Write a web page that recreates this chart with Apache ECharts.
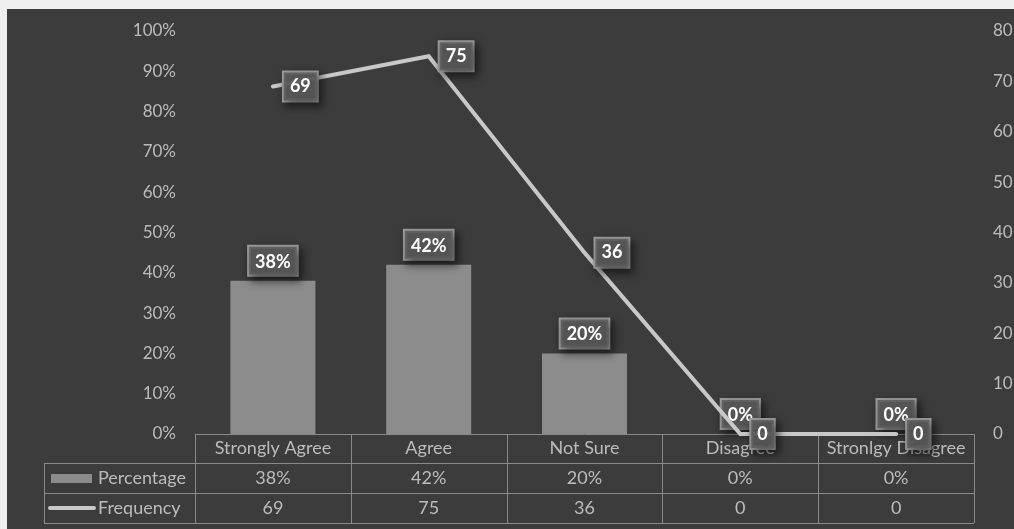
<!DOCTYPE html>
<html>
<head>
<meta charset="utf-8">
<title>Survey responses</title>
<script src="https://cdn.jsdelivr.net/npm/echarts@6/dist/echarts.min.js"></script>
<style>
  html, body { margin: 0; padding: 0; background: #efefef; }
  #chart { width: 1014px; height: 529px; }
</style>
</head>
<body>
<div id="chart"></div>
<script>
// Survey answers per category
const categories = ['Strongly Agree', 'Agree', 'Not Sure', 'Disagree', 'Stronlgy Disagree'];
const percentage = [38, 42, 20, 0, 0];
const frequency = [69, 75, 36, 0, 0];
const seriesNames = ['Percentage', 'Frequency'];

const FONT = 'Lato, "Open Sans", sans-serif';
const BG = '#3c3c3c';
const BAR = '#8c8c8c';
const LINE = '#c8c8c8';
const TEXT = '#bcbcbc';
const RULE = '#8a8a8a';
const TABLE_FONT = '18px ' + FONT;

const chart = echarts.init(document.getElementById('chart'));

const boxLabel = {
  show: true,
  color: '#ffffff',
  fontWeight: 'bold',
  fontSize: 18,
  fontFamily: FONT,
  lineHeight: 22,
  backgroundColor: 'rgba(92,92,92,0.88)',
  borderColor: '#9c9c9c',
  borderWidth: 2,
  padding: [4, 6, 2, 6],
  shadowColor: 'rgba(0,0,0,0.55)',
  shadowBlur: 8,
  shadowOffsetX: 3,
  shadowOffsetY: 4
};

chart.setOption({
  backgroundColor: BG,
  animation: false,
  grid: { left: 195, right: 40, top: 31, bottom: 95, containLabel: false, outerBoundsMode: 'none' },
  xAxis: {
    type: 'category',
    data: categories,
    axisLine: { show: false },
    axisTick: { show: false },
    axisLabel: { show: false },
    splitLine: { show: false }
  },
  yAxis: [
    {
      type: 'value', min: 0, max: 100, interval: 10,
      axisLine: { show: false }, axisTick: { show: false }, splitLine: { show: false },
      axisLabel: { formatter: '{value}%', color: TEXT, fontSize: 17, fontFamily: FONT, margin: 19 }
    },
    {
      type: 'value', min: 0, max: 80, interval: 10,
      axisLine: { show: false }, axisTick: { show: false }, splitLine: { show: false },
      axisLabel: { color: TEXT, fontSize: 17, fontFamily: FONT, margin: 19 }
    }
  ],
  series: [
    {
      name: seriesNames[0],
      type: 'bar',
      yAxisIndex: 0,
      data: percentage,
      barWidth: 85,
      itemStyle: { color: BAR },
      label: Object.assign({}, boxLabel, { position: 'top', distance: 6, formatter: '{c}%' }),
      z: 2
    },
    {
      name: seriesNames[1],
      type: 'line',
      yAxisIndex: 1,
      data: frequency,
      symbol: 'circle',
      symbolSize: 2,
      showSymbol: true,
      itemStyle: { color: 'rgba(0,0,0,0)', borderWidth: 0 },
      lineStyle: { color: LINE, width: 4, cap: 'round', join: 'miter' },
      label: Object.assign({}, boxLabel, { position: 'right', distance: 10 }),
      z: 3
    }
  ]
});

// Data table under the plot, aligned with the category bands
function buildTable() {
  const c0 = chart.convertToPixel({ xAxisIndex: 0 }, categories[0]);
  const c1 = chart.convertToPixel({ xAxisIndex: 0 }, categories[1]);
  const band = c1 - c0;
  const left = c0 - band / 2;
  const right = left + band * categories.length;
  const top = chart.convertToPixel({ yAxisIndex: 0 }, 0);
  const legendLeft = 44;
  const rows = [top, top + 29, top + 59, top + 89];
  const els = [];
  const hLine = (x1, x2, y) => els.push({
    type: 'line', z: 1, silent: true,
    shape: { x1: x1, y1: Math.round(y) + 0.5, x2: x2, y2: Math.round(y) + 0.5 },
    style: { stroke: RULE, lineWidth: 1 }
  });
  const vLine = (x, y1, y2) => els.push({
    type: 'line', z: 1, silent: true,
    shape: { x1: Math.round(x) + 0.5, y1: y1, x2: Math.round(x) + 0.5, y2: y2 },
    style: { stroke: RULE, lineWidth: 1 }
  });
  const text = (str, x, y, align) => els.push({
    type: 'text', z: 1, silent: true,
    style: { text: str, x: x, y: y, textAlign: align || 'center', textVerticalAlign: 'middle', fill: TEXT, font: TABLE_FONT }
  });

  hLine(left, right, rows[0]);
  hLine(legendLeft, right, rows[1]);
  hLine(legendLeft, right, rows[2]);
  hLine(legendLeft, right, rows[3]);
  vLine(legendLeft, rows[1], rows[3]);
  for (let i = 0; i <= categories.length; i++) {
    vLine(left + band * i, rows[0], rows[3]);
  }
  categories.forEach((cat, i) => {
    const cx = left + band * (i + 0.5);
    text(cat, cx, (rows[0] + rows[1]) / 2);
    text(percentage[i] + '%', cx, (rows[1] + rows[2]) / 2);
    text(String(frequency[i]), cx, (rows[2] + rows[3]) / 2);
  });

  // legend keys
  const r1 = (rows[1] + rows[2]) / 2;
  const r2 = (rows[2] + rows[3]) / 2;
  els.push({ type: 'rect', z: 1, silent: true, shape: { x: 51, y: r1 - 4, width: 41, height: 9 }, style: { fill: BAR } });
  els.push({ type: 'line', z: 1, silent: true, shape: { x1: 50, y1: r2, x2: 94, y2: r2 }, style: { stroke: LINE, lineWidth: 4, lineCap: 'round' } });
  text(seriesNames[0], 98, r1, 'left');
  text(seriesNames[1], 98, r2, 'left');

  // light page margin at top and left
  els.push({ type: 'rect', z: 10, silent: true, shape: { x: 0, y: 0, width: 1014, height: 9 }, style: { fill: '#efefef' } });
  els.push({ type: 'rect', z: 10, silent: true, shape: { x: 0, y: 0, width: 7, height: 529 }, style: { fill: '#efefef' } });

  chart.setOption({ graphic: { elements: els } });
}
buildTable();
</script>
</body>
</html>
